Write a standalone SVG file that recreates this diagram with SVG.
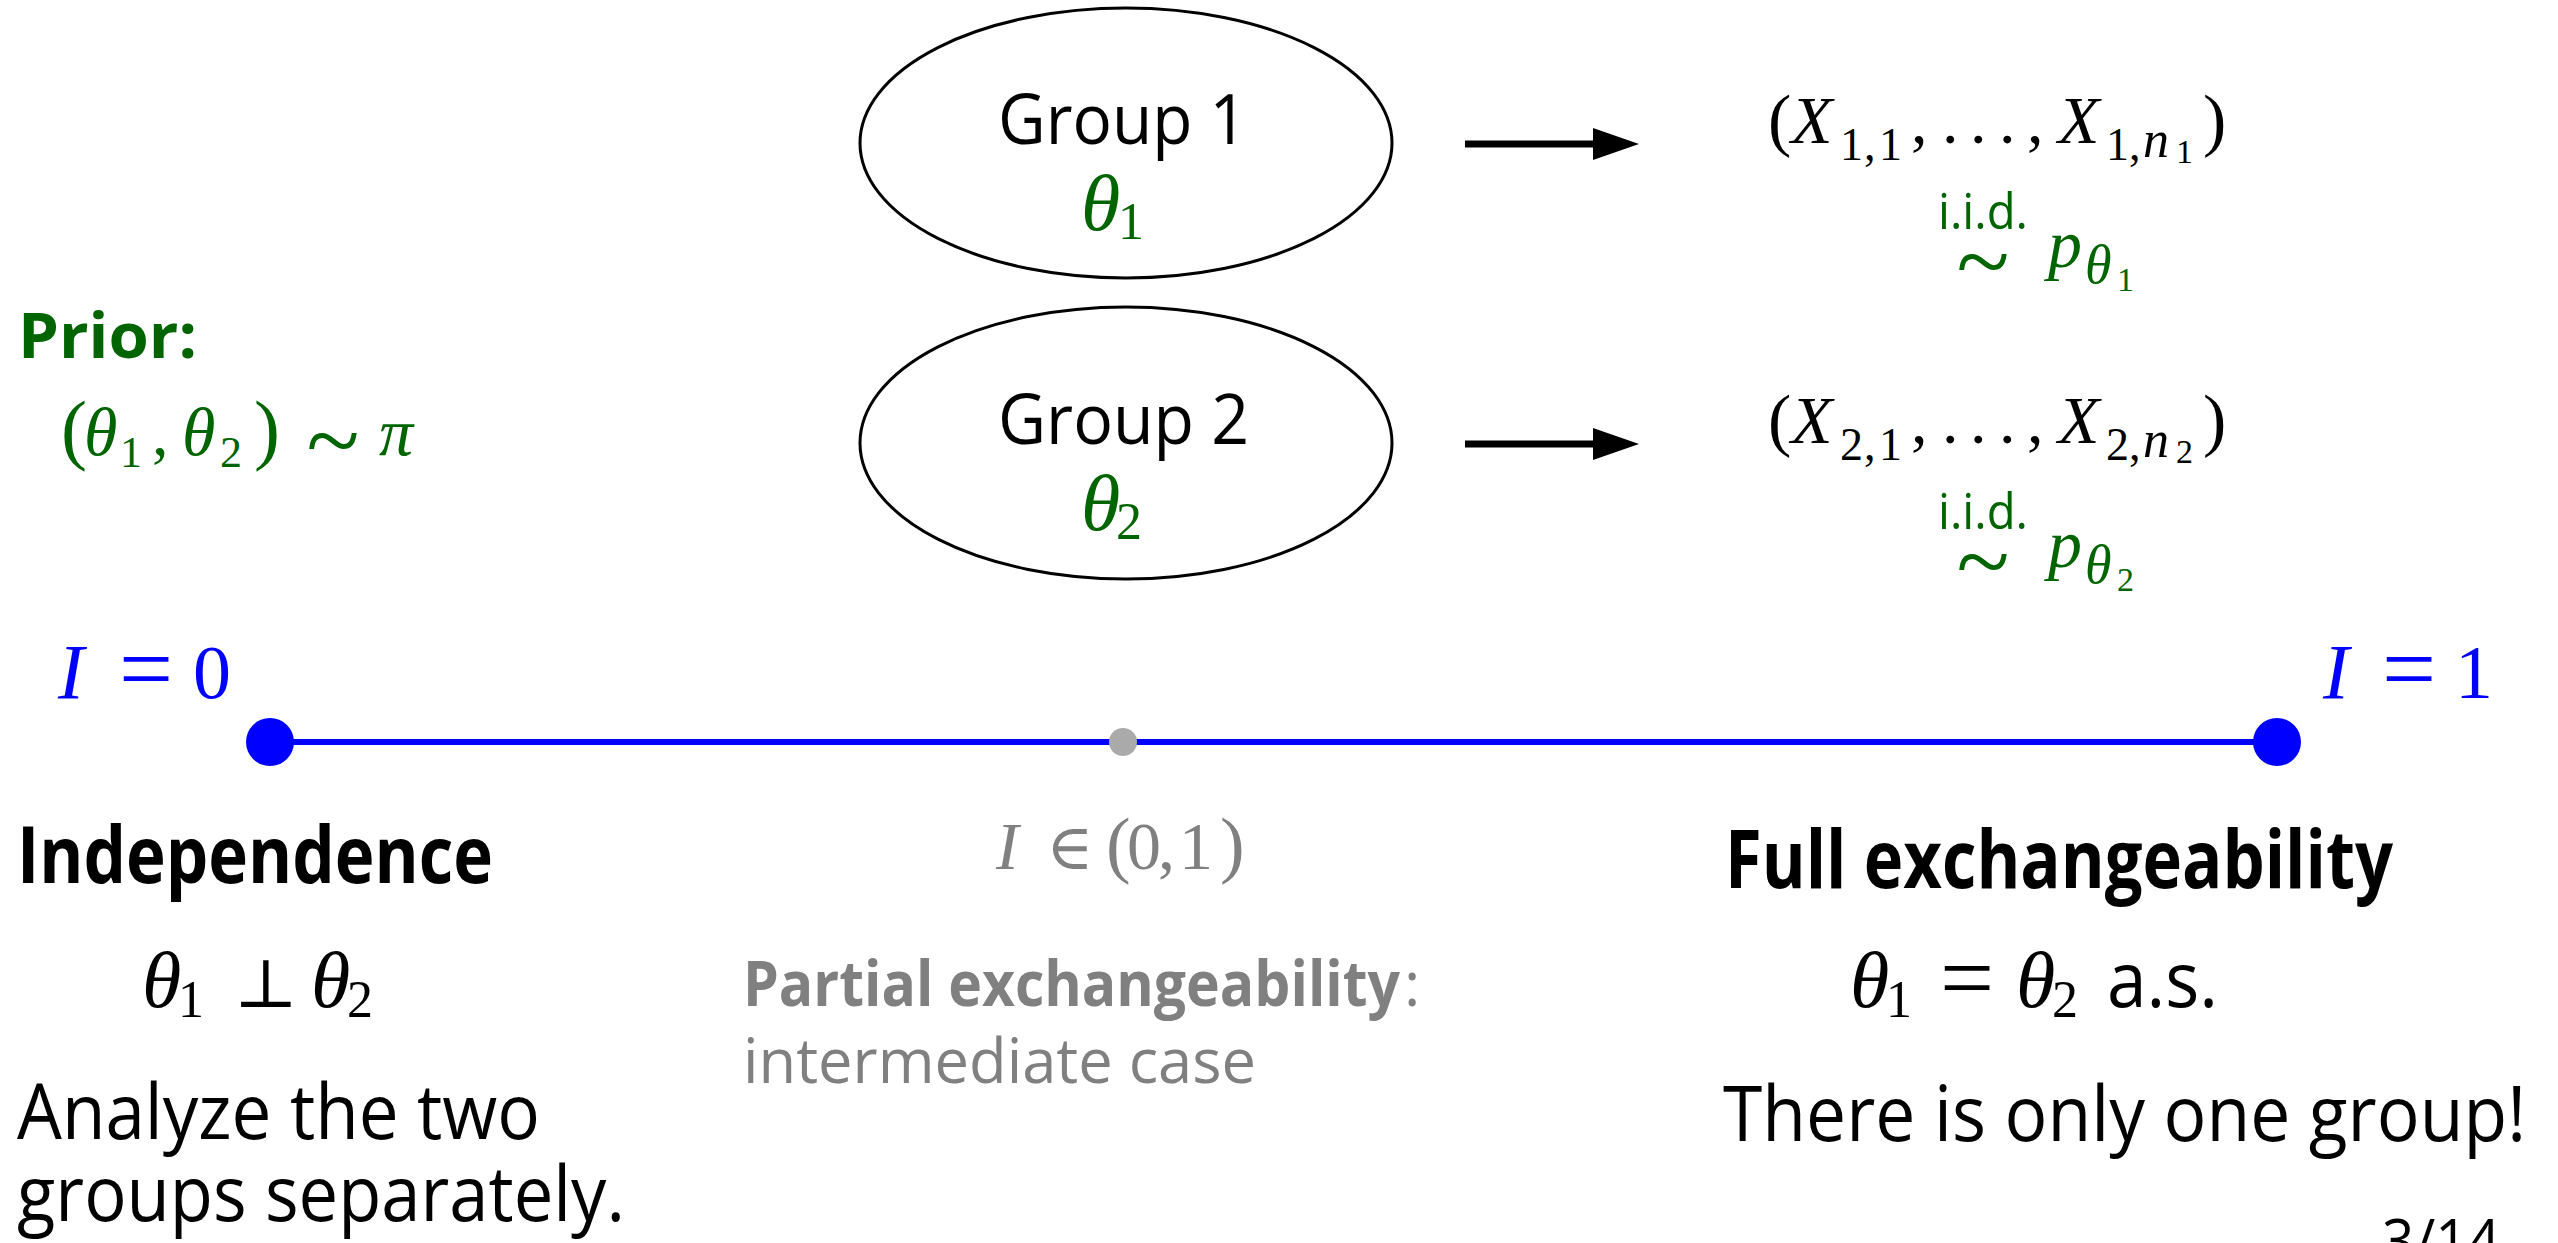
<svg xmlns="http://www.w3.org/2000/svg" width="2558" height="1243" viewBox="0 0 2558 1243">
<style>
.sans{font-family:"Open Sans","Noto Sans",sans-serif}
.b{font-weight:700}
.m{font-family:"Liberation Serif","DejaVu Serif",serif;font-style:italic}
.u{font-family:"Liberation Serif","DejaVu Serif",serif;font-style:normal}
.op{font-family:"DejaVu Serif","Liberation Serif",serif;font-style:normal}
.green{fill:#006400}
.blue{fill:#0000ff}
.gray{fill:#808080}
.node{fill:none;stroke:#000;stroke-width:3}
.conn{stroke:#000;stroke-width:7;fill:none}
</style>
<defs>
<marker id="ah" markerUnits="userSpaceOnUse" markerWidth="48" markerHeight="34" refX="7" refY="17" orient="auto">
<path d="M0,1 L46,17 L0,33 z" fill="#000"/>
</marker>
</defs>
<rect width="2558" height="1243" fill="#fff"/>

<g id="group1">
<ellipse class="node" cx="1126" cy="143" rx="266" ry="135"/>
<text class="sans" x="998" y="144" font-size="70" textLength="249" lengthAdjust="spacingAndGlyphs">Group 1</text>
<text class="green" y="230"><tspan class="m" x="1081" font-size="80">θ</tspan><tspan class="u" x="1118" y="239" font-size="52">1</tspan></text>
</g>

<g id="group2">
<ellipse class="node" cx="1126" cy="443" rx="266" ry="136"/>
<text class="sans" x="998" y="444" font-size="70" textLength="251" lengthAdjust="spacingAndGlyphs">Group 2</text>
<text class="green" y="530"><tspan class="m" x="1081" font-size="80">θ</tspan><tspan class="u" x="1116" y="539" font-size="52">2</tspan></text>
</g>

<g id="data1">
<text y="143"><tspan class="u" x="1768" font-size="70">(</tspan><tspan class="m" x="1791" font-size="68">X</tspan><tspan class="u" x="1840" y="160" font-size="46">1</tspan><tspan class="u" x="1864" y="160" font-size="46">,</tspan><tspan class="u" x="1879" y="160" font-size="46">1</tspan><tspan class="u" x="1911" y="143" font-size="66">,</tspan><tspan class="u" x="1942" font-size="66">.</tspan><tspan class="u" x="1970" font-size="66">.</tspan><tspan class="u" x="1999" font-size="66">.</tspan><tspan class="u" x="2027" font-size="66">,</tspan><tspan class="m" x="2058" font-size="68">X</tspan><tspan class="u" x="2106" y="160" font-size="46">1</tspan><tspan class="u" x="2129" y="160" font-size="46">,</tspan><tspan class="m" x="2143" y="157" font-size="52">n</tspan><tspan class="u" x="2176" y="163" font-size="34">1</tspan><tspan class="u" x="2203" y="143" font-size="70">)</tspan></text>
<text class="sans green" x="1938" y="229" font-size="50" textLength="90" lengthAdjust="spacingAndGlyphs">i.i.d.</text>
<text class="u green" x="1983" y="294" font-size="98" text-anchor="middle">~</text>
<text class="green" y="267"><tspan class="m" x="2048" font-size="68">p</tspan><tspan class="m" x="2085" y="283" font-size="54">θ</tspan><tspan class="u" x="2117" y="291" font-size="34">1</tspan></text>
</g>

<g id="data2">
<text y="443"><tspan class="u" x="1768" font-size="70">(</tspan><tspan class="m" x="1791" font-size="68">X</tspan><tspan class="u" x="1840" y="460" font-size="46">2</tspan><tspan class="u" x="1864" y="460" font-size="46">,</tspan><tspan class="u" x="1879" y="460" font-size="46">1</tspan><tspan class="u" x="1911" y="443" font-size="66">,</tspan><tspan class="u" x="1942" font-size="66">.</tspan><tspan class="u" x="1970" font-size="66">.</tspan><tspan class="u" x="1999" font-size="66">.</tspan><tspan class="u" x="2027" font-size="66">,</tspan><tspan class="m" x="2058" font-size="68">X</tspan><tspan class="u" x="2106" y="460" font-size="46">2</tspan><tspan class="u" x="2129" y="460" font-size="46">,</tspan><tspan class="m" x="2143" y="457" font-size="52">n</tspan><tspan class="u" x="2176" y="463" font-size="34">2</tspan><tspan class="u" x="2203" y="443" font-size="70">)</tspan></text>
<text class="sans green" x="1938" y="529" font-size="50" textLength="90" lengthAdjust="spacingAndGlyphs">i.i.d.</text>
<text class="u green" x="1983" y="594" font-size="98" text-anchor="middle">~</text>
<text class="green" y="567"><tspan class="m" x="2048" font-size="68">p</tspan><tspan class="m" x="2085" y="583" font-size="54">θ</tspan><tspan class="u" x="2117" y="591" font-size="34">2</tspan></text>
</g>

<g id="connectors">
<line class="conn" x1="1465" y1="144" x2="1600" y2="144" marker-end="url(#ah)"/>
<line class="conn" x1="1465" y1="444" x2="1600" y2="444" marker-end="url(#ah)"/>
</g>

<g id="prior">
<text class="sans b green" x="18" y="358" font-size="63" textLength="179" lengthAdjust="spacingAndGlyphs">Prior:</text>
<text class="green" y="455"><tspan class="u" x="61" font-size="78">(</tspan><tspan class="m" x="84" font-size="68">θ</tspan><tspan class="u" x="120" y="467" font-size="44">1</tspan><tspan class="u" x="152" y="455" font-size="66">,</tspan><tspan class="m" x="182" font-size="68">θ</tspan><tspan class="u" x="220" y="467" font-size="44">2</tspan><tspan class="u" x="254" y="455" font-size="78">)</tspan></text>
<text class="u green" x="333" y="473" font-size="98" text-anchor="middle">~</text>
<text class="m green" x="379" y="455" font-size="68">π</text>
</g>

<g id="scale">
<text class="blue" y="698"><tspan class="m" x="58" font-size="78">I</tspan><tspan class="u" x="119" y="701" font-size="96">=</tspan><tspan class="u" x="193" y="698" font-size="76">0</tspan></text>
<text class="blue" y="698"><tspan class="m" x="2323" font-size="78">I</tspan><tspan class="u" x="2382" y="701" font-size="96">=</tspan><tspan class="u" x="2455" y="698" font-size="76">1</tspan></text>
<line x1="270" y1="742" x2="2277" y2="742" stroke="#0000ff" stroke-width="6"/>
<circle cx="270" cy="742" r="24" fill="#0000ff"/>
<circle cx="2277" cy="742" r="24" fill="#0000ff"/>
<circle cx="1123" cy="742" r="14" fill="#aaaaaa"/>
</g>

<g id="independence">
<text class="sans b" x="17" y="883" font-size="78" textLength="476" lengthAdjust="spacingAndGlyphs">Independence</text>
<text y="1007"><tspan class="m" x="142" font-size="80">θ</tspan><tspan class="u" x="178" y="1017" font-size="52">1</tspan><tspan class="op" x="234" y="1007" font-size="68">⊥</tspan><tspan class="m" x="311" font-size="80">θ</tspan><tspan class="u" x="347" y="1017" font-size="52">2</tspan></text>
<text class="sans" x="17" y="1139" font-size="77" textLength="523" lengthAdjust="spacingAndGlyphs">Analyze the two</text>
<text class="sans" x="17" y="1221" font-size="77" textLength="608" lengthAdjust="spacingAndGlyphs">groups separately.</text>
</g>

<g id="partial">
<text class="gray" y="869"><tspan class="m" x="996" font-size="68">I</tspan><tspan class="op" x="1046" font-size="64">∈</tspan><tspan class="u" x="1106" y="869" font-size="74">(</tspan><tspan class="u" x="1127" font-size="68">0</tspan><tspan class="u" x="1158" font-size="68">,</tspan><tspan class="u" x="1179" font-size="68">1</tspan><tspan class="u" x="1220" font-size="74">)</tspan></text>
<text class="sans b gray" x="743" y="1006" font-size="62" textLength="657" lengthAdjust="spacingAndGlyphs">Partial exchangeability</text>
<text class="sans gray" x="1404" y="1006" font-size="62">:</text>
<text class="sans gray" x="743" y="1083" font-size="62" textLength="513" lengthAdjust="spacingAndGlyphs">intermediate case</text>
</g>

<g id="full">
<text class="sans b" x="1725" y="888" font-size="80" textLength="668" lengthAdjust="spacingAndGlyphs">Full exchangeability</text>
<text y="1007"><tspan class="m" x="1850" font-size="80">θ</tspan><tspan class="u" x="1886" y="1017" font-size="52">1</tspan><tspan class="u" x="1940" y="1010" font-size="96">=</tspan><tspan class="m" x="2016" y="1007" font-size="80">θ</tspan><tspan class="u" x="2052" y="1017" font-size="52">2</tspan></text>
<text class="sans" x="2107" y="1007" font-size="77" textLength="111" lengthAdjust="spacingAndGlyphs">a.s.</text>
<text class="sans" x="1723" y="1141" font-size="77" textLength="803" lengthAdjust="spacingAndGlyphs">There is only one group!</text>
</g>

<text class="sans" x="2382" y="1262" font-size="60" textLength="118" lengthAdjust="spacingAndGlyphs">3/14</text>
</svg>
